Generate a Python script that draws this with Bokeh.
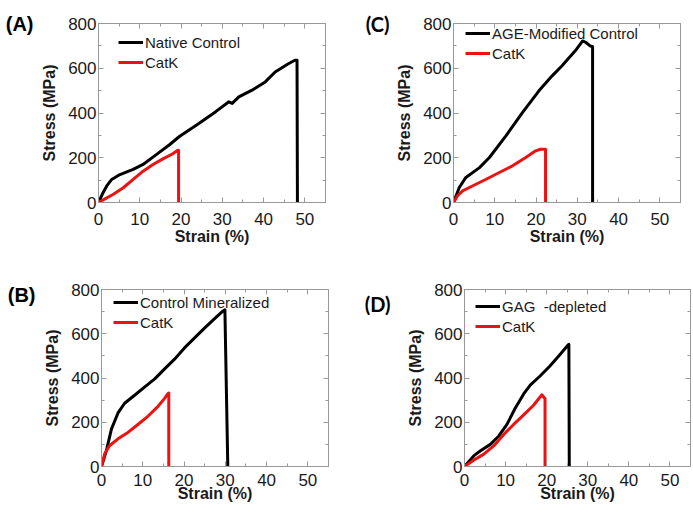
from bokeh.plotting import figure
from bokeh.layouts import column, row
from bokeh.models import (Range1d, LinearAxis, Legend, LegendItem, FixedTicker,
                          SingleIntervalTicker, CustomJSTickFormatter)
from bokeh.embed import file_html
from bokeh.resources import INLINE

# ---------------- data (strain %, stress MPa) ----------------
a_ctrl_x = [0, 1.0, 2.0, 3.2, 5.2, 8.4, 10.8, 14.0, 17.2, 19.6, 24.4, 28.4, 31.6, 32.4, 34.0, 37.2, 40.4, 42.8, 46.0, 47.6, 48.1, 48.2]
a_ctrl_y = [0, 40, 74, 103, 125, 148, 170, 214, 258, 295, 354, 406, 450, 443, 472, 502, 539, 583, 620, 636, 636, 0]
a_catk_x = [0, 3.6, 6.0, 8.4, 10.8, 13.2, 15.6, 18.0, 19.2, 19.4, 19.4]
a_catk_y = [0, 37, 66, 103, 140, 170, 195, 218, 233, 233, 0]

c_ctrl_x = [0, 1.4, 3.0, 6.3, 8.7, 12.7, 16.7, 20.7, 23.9, 26.3, 29.5, 31.3, 32.1, 33.1, 33.7, 33.7]
c_ctrl_y = [0, 67, 112, 156, 201, 298, 402, 499, 566, 611, 678, 722, 715, 700, 696, 0]
c_catk_x = [0, 1.0, 2.2, 4.7, 7.9, 11.1, 14.3, 17.5, 19.9, 21.1, 22.3, 22.3]
c_catk_y = [0, 30, 52, 75, 104, 134, 164, 201, 231, 238, 238, 0]

b_ctrl_x = [0, 1.2, 2.4, 4.0, 5.6, 8.1, 10.5, 12.9, 15.3, 17.7, 20.1, 22.5, 24.9, 27.4, 29.4, 29.9, 30.6]
b_ctrl_y = [0, 73, 169, 242, 286, 323, 360, 396, 441, 485, 536, 580, 624, 668, 702, 708, 0]
b_catk_x = [0, 0.8, 2.0, 4.0, 6.4, 8.9, 11.3, 13.7, 15.3, 16.1, 16.3, 16.3]
b_catk_y = [0, 59, 95, 125, 154, 191, 228, 272, 308, 330, 332, 0]

d_ctrl_x = [0, 2.3, 3.9, 6.3, 8.3, 10.3, 12.3, 14.4, 16.0, 18.4, 20.8, 23.2, 25.2, 25.4, 25.5]
d_ctrl_y = [0, 49, 71, 100, 137, 189, 262, 328, 368, 409, 454, 505, 549, 552, 0]
d_catk_x = [0, 2.3, 4.7, 7.1, 9.5, 11.9, 14.4, 16.8, 18.4, 18.8, 19.6, 19.6]
d_catk_y = [0, 29, 56, 93, 144, 189, 233, 277, 314, 324, 306, 0]

panel_tags = ["(A)", "(C)", "(B)", "(D)"]
control_names = ["Native Control", "AGE-Modified Control", "Control Mineralized", "GAG  -depleted"]
treated_name = "CatK"

# layout / style per panel (pixels); tag_y = height (in axis units) where the panel tag sits
panels = [
    dict(cx=a_ctrl_x, cy=a_ctrl_y, kx=a_catk_x, ky=a_catk_y,
         w=346, h=257, bl=98, br=21, bt=23, bb=54, leg=(20, 10), tag_y=800, tag_s=5,
         font="Liberation Sans", ms=10, ls=0),
    dict(cx=c_ctrl_x, cy=c_ctrl_y, kx=c_catk_x, ky=c_catk_y,
         w=347, h=257, bl=107, br=13, bt=21, bb=55, leg=(12, 2), tag_y=796, tag_s=4,
         font="Lato", ms=10, ls=0),
    dict(cx=b_ctrl_x, cy=b_ctrl_y, kx=b_catk_x, ky=b_catk_y,
         w=346, h=257, bl=101, br=18, bt=32, bb=47, leg=(12, 4), tag_y=773, tag_s=6,
         font="Liberation Sans", ms=7, ls=-4),
    dict(cx=d_ctrl_x, cy=d_ctrl_y, kx=d_catk_x, ky=d_catk_y,
         w=347, h=257, bl=118, br=3, bt=28, bb=48, leg=(11, 11), tag_y=733, tag_s=14,
         font="Lato", ms=7, ls=-4),
]

AX = "#999999"
TXT = "#1a1a1a"
FONT = "Liberation Sans"


def style_axis(ax, ticker_step, show_labels, ms=2, ls=2):
    ax.ticker = SingleIntervalTicker(interval=ticker_step, num_minor_ticks=2)
    ax.axis_line_color = AX
    ax.major_tick_line_color = AX
    ax.minor_tick_line_color = AX
    ax.major_tick_in = 5
    ax.major_tick_out = 0
    ax.minor_tick_in = 3
    ax.minor_tick_out = 0
    if show_labels:
        ax.major_label_text_font = FONT
        ax.major_label_text_font_size = "17px"
        ax.major_label_text_color = TXT
        ax.major_label_standoff = ms
        ax.axis_label_text_font = FONT
        ax.axis_label_text_font_size = "16px"
        ax.axis_label_text_font_style = "bold"
        ax.axis_label_text_color = TXT
        ax.axis_label_standoff = ls
    else:
        ax.formatter = CustomJSTickFormatter(code="return ''")
        ax.major_label_standoff = 0
        ax.axis_label_standoff = 0
        ax.major_label_text_font_size = "1px"


figs = []
for i, pn in enumerate(panels):
    p = figure(width=pn["w"], height=pn["h"], output_backend="svg", toolbar_location=None,
               x_range=Range1d(0, 55), y_range=Range1d(0, 800),
               min_border_left=pn["bl"], min_border_right=pn["br"],
               min_border_top=pn["bt"], min_border_bottom=pn["bb"])
    p.xgrid.visible = False
    p.ygrid.visible = False
    p.outline_line_color = AX
    p.background_fill_color = "white"
    p.border_fill_color = "white"

    style_axis(p.xaxis[0], 10, True, pn["ms"], pn["ls"])
    style_axis(p.yaxis[0], 200, True, 2, 7)
    p.xaxis[0].axis_label = "Strain (%)"
    p.yaxis[0].axis_label = "Stress (MPa)"

    top_ax = LinearAxis()
    style_axis(top_ax, 10, False)
    p.add_layout(top_ax, "above")
    right_ax = LinearAxis()
    style_axis(right_ax, 200, False)
    p.add_layout(right_ax, "right")

    # panel tag: the single label of an outer, line-less left axis
    tag_ax = LinearAxis(ticker=FixedTicker(ticks=[pn["tag_y"]], minor_ticks=[]),
                        formatter=CustomJSTickFormatter(code="return %r" % panel_tags[i]),
                        axis_line_alpha=0, major_tick_line_alpha=0, minor_tick_line_alpha=0,
                        major_tick_in=0, major_tick_out=0, minor_tick_in=0, minor_tick_out=0,
                        major_label_standoff=pn["tag_s"], major_label_text_font=pn["font"],
                        major_label_text_font_style="bold", major_label_text_font_size="20px",
                        major_label_text_color="black")
    p.add_layout(tag_ax, "left")

    r1 = p.line(pn["cx"], pn["cy"], line_color="black", line_width=3, line_join="round")
    r2 = p.line(pn["kx"], pn["ky"], line_color="#ee1111", line_width=3, line_join="round")

    frame_h = pn["h"] - pn["bt"] - pn["bb"]
    legend = Legend(items=[LegendItem(label=control_names[i], renderers=[r1]),
                           LegendItem(label=treated_name, renderers=[r2])],
                    location=(pn["leg"][0], frame_h - pn["leg"][1] - 40),
                    border_line_alpha=0, background_fill_alpha=0,
                    padding=0, margin=0, spacing=0,
                    label_height=20, glyph_height=20, glyph_width=25,
                    label_standoff=2, label_text_font=FONT,
                    label_text_font_size="15px", label_text_color=TXT)
    p.add_layout(legend)
    figs.append(p)

layout = column(row(figs[0], figs[1]), row(figs[2], figs[3]))
open("out.html", "w").write(file_html(layout, INLINE))
